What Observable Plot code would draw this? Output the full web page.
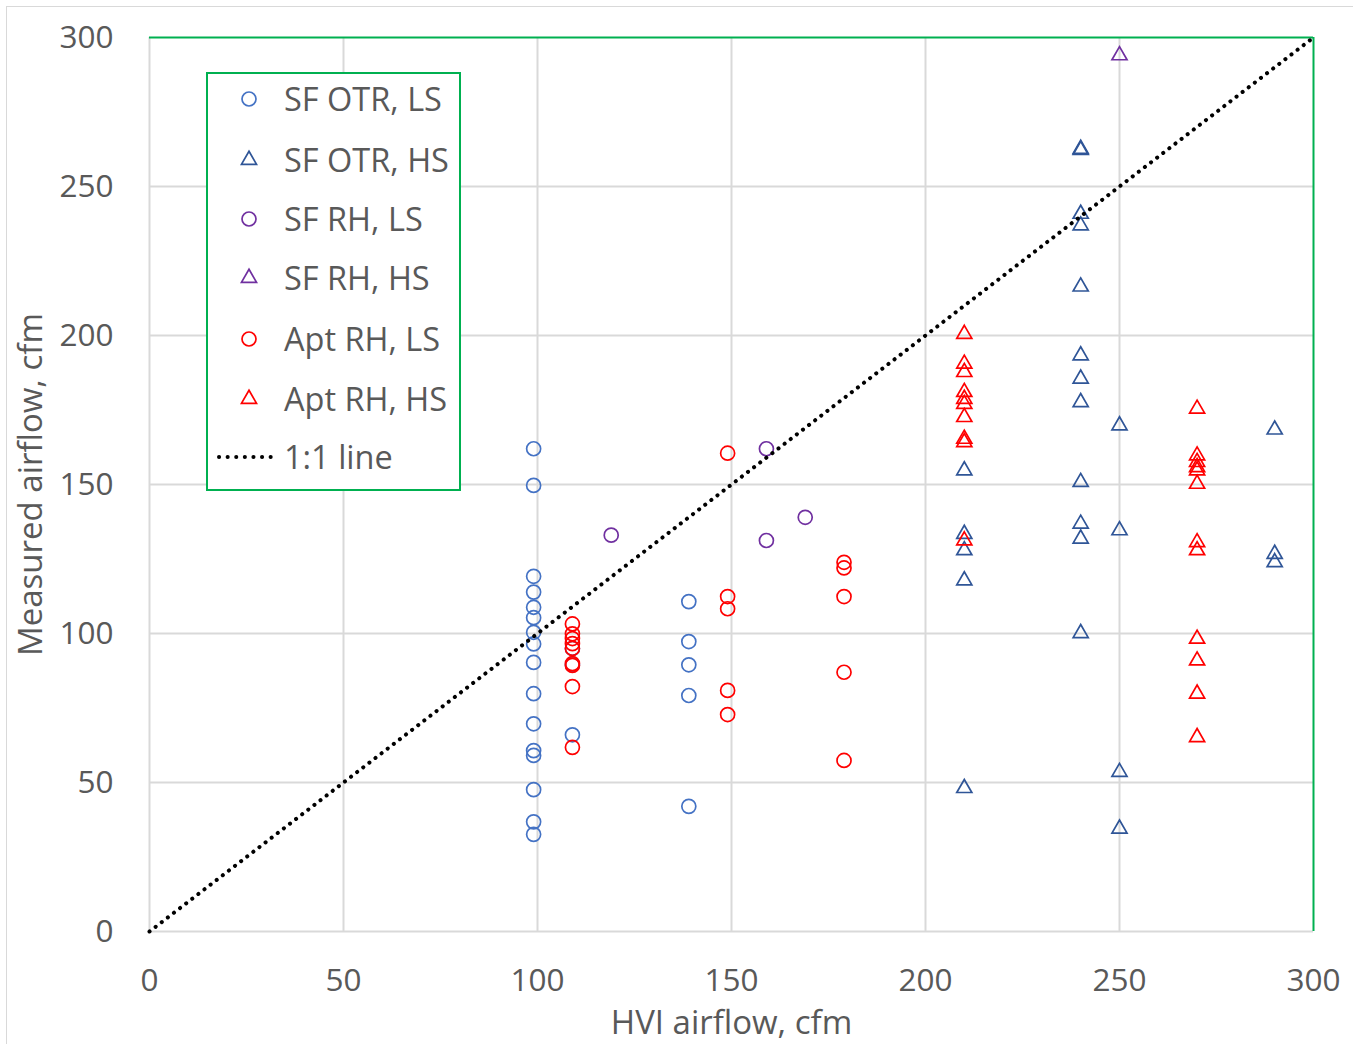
<!DOCTYPE html>
<html><head><meta charset="utf-8">
<script src="https://cdn.jsdelivr.net/npm/d3@7"></script>
<script src="https://cdn.jsdelivr.net/npm/@observablehq/plot@0.6"></script>
<style>
body{margin:0;background:#fff;font-family:"Open Sans",sans-serif;}
#wrap{position:relative;width:1353px;height:1044px;overflow:hidden;background:#fff}
#frame{position:absolute;left:6px;top:6px;width:1400px;height:1100px;border:1px solid #d9d9d9}
#chart{position:absolute;left:0;top:0}
#legend{position:absolute;left:206px;top:72px;width:251px;height:415px;border:2px solid #00B050;background:#fff}
.row{position:absolute;left:0;height:40px;display:flex;align-items:center}
.row svg{position:absolute;left:0;top:0}
.row span{position:absolute;left:76px;font-size:32.5px;color:#595959;white-space:nowrap;line-height:40px}
</style></head><body>
<div id="wrap"><div id="frame"></div><div id="chart"></div><div id="legend"></div></div>
<script>
// ---- data ----
const seriesNames = ["SF OTR, LS","SF OTR, HS","SF RH, LS","SF RH, HS","Apt RH, LS","Apt RH, HS"];
const sfOtrLsX = [99,99,99,99,99,99,99,99,99,99,99,99,99,99,99,99, 109,109,109, 139,139,139,139,139];
const sfOtrLsY = [162,149.7,119.2,113.9,108.8,105.3,100.4,96.5,90.3,79.8,69.7,60.7,59.1,47.6,36.8,32.6, 95,89.5,66, 110.7,97.3,89.5,79.2,42];
const sfOtrHsX = [210,210,210,210,210, 240,240,240,240,240,240,240,240,240,240,240,240, 250,250,250,250, 290,290,290];
const sfOtrHsY = [154.7,133.4,127.9,117.8,48.1, 262.6,262.2,240.8,236.9,216.4,193.3,185.5,177.6,150.8,136.8,131.8,100.1, 169.8,134.6,53.5,34.5, 168.4,126.7,123.9];
const sfRhLsX = [119,159,159,169];
const sfRhLsY = [133,162,131.2,139];
const sfRhHsX = [250];
const sfRhHsY = [294];
const aptRhLsX = [109,109,109,109,109,109,109,109,109, 149,149,149,149,149, 179,179,179,179,179];
const aptRhLsY = [103.2,99.9,98.3,96.6,95,89.9,89.3,82.2,61.8, 160.5,112.4,108.3,80.9,72.8, 123.9,122,112.4,87,57.4];
const aptRhHsX = [210,210,210,210,210,210,210,210,210,210, 270,270,270,270,270,270,270,270,270,270,270,270];
const aptRhHsY = [200.5,190.5,187.7,181,178.7,177,172.6,165.3,164.2,131.2, 175.4,159.7,157.5,155.8,154.7,150.2,130.6,127.9,98.2,90.9,79.8,65.2];
const lineX = [0,300];
const lineY = [0,300];
const axisTicks = [0,50,100,150,200,250,300];
const xLabel = "HVI airflow, cfm";
const yLabel = "Measured airflow, cfm";
const lineLabel = "1:1 line";

const styles = [
  {symbol:"circle", color:"#4472C4"},
  {symbol:"triangle", color:"#2F5597"},
  {symbol:"circle", color:"#7030A0"},
  {symbol:"triangle", color:"#7030A0"},
  {symbol:"circle", color:"#FF0000"},
  {symbol:"triangle", color:"#FF0000"}
];
const xsList = [sfOtrLsX,sfOtrHsX,sfRhLsX,sfRhHsX,aptRhLsX,aptRhHsX];
const ysList = [sfOtrLsY,sfOtrHsY,sfRhLsY,sfRhHsY,aptRhLsY,aptRhHsY];
const series = xsList.map((xs,i)=>xs.map((x,j)=>({x, y: ysList[i][j]})));
const oneToOne = lineX.map((x,i)=>({x, y: lineY[i]}));
const inner = axisTicks.filter(t=>t>0&&t<300);

const dotMarks = series.map((pts,i)=>Plot.dot(pts,{x:"x",y:"y",symbol:styles[i].symbol,
  r: styles[i].symbol==="circle"?7:5.6, stroke:styles[i].color, fill:"none", strokeWidth:1.7}));

const chart = Plot.plot({
  width:1353, height:1044,
  marginLeft:149, marginRight:40, marginTop:37, marginBottom:113,
  style:{fontFamily:"'Open Sans', sans-serif", background:"transparent", overflow:"visible"},
  x:{domain:[0,300]}, y:{domain:[0,300]},
  marks:[
    Plot.ruleX(inner,{stroke:"#d9d9d9",strokeWidth:2}),
    Plot.ruleY(inner,{stroke:"#d9d9d9",strokeWidth:2}),
    Plot.ruleX([0],{stroke:"#d9d9d9",strokeWidth:2}),
    Plot.ruleY([0],{stroke:"#d9d9d9",strokeWidth:2}),
    Plot.ruleX([300],{stroke:"#00B050",strokeWidth:2}),
    Plot.ruleY([300],{stroke:"#00B050",strokeWidth:2}),
    ...dotMarks,
    Plot.line(oneToOne,{x:"x",y:"y",stroke:"black",strokeWidth:4,strokeDasharray:"0.1 7.6",strokeLinecap:"round"}),
    Plot.axisX(axisTicks,{tickSize:0,tickPadding:37,fontSize:31.5,color:"#595959",label:null}),
    Plot.axisY(axisTicks,{tickSize:0,tickPadding:36,fontSize:31.5,color:"#595959",label:null}),
    Plot.text([xLabel],{frameAnchor:"bottom",dy:92,lineAnchor:"middle",textAnchor:"middle",text:d=>d,fontSize:33,fill:"#595959"}),
    Plot.text([yLabel],{frameAnchor:"left",dx:-118,rotate:-90,lineAnchor:"middle",textAnchor:"middle",text:d=>d,fontSize:33,fill:"#595959"})
  ]
});
document.getElementById("chart").appendChild(chart);

// legend
const legend = d3.select("#legend");
const rowTops = [25,86,145,204,265,325,383];
seriesNames.forEach((name,i)=>{
  const row = legend.append("div").attr("class","row").style("top",(rowTops[i]-20)+"px");
  const svg = row.append("svg").attr("width",70).attr("height",40);
  const sym = styles[i].symbol==="circle" ? d3.symbolCircle : d3.symbolTriangle;
  const size = styles[i].symbol==="circle" ? Math.PI*7*7 : Math.PI*5.6*5.6;
  svg.append("path").attr("d",d3.symbol(sym,size)()).attr("transform","translate(41,20)")
    .attr("fill","none").attr("stroke",styles[i].color).attr("stroke-width",1.7);
  row.append("span").text(name);
});
const lrow = legend.append("div").attr("class","row").style("top",(rowTops[6]-20)+"px");
const lsvg = lrow.append("svg").attr("width",80).attr("height",40);
lsvg.append("line").attr("x1",11).attr("x2",71).attr("y1",20).attr("y2",20)
  .attr("stroke","black").attr("stroke-width",4).attr("stroke-dasharray","0.1 8.5").attr("stroke-linecap","round");
lrow.append("span").text(lineLabel);
</script>
</body></html>
